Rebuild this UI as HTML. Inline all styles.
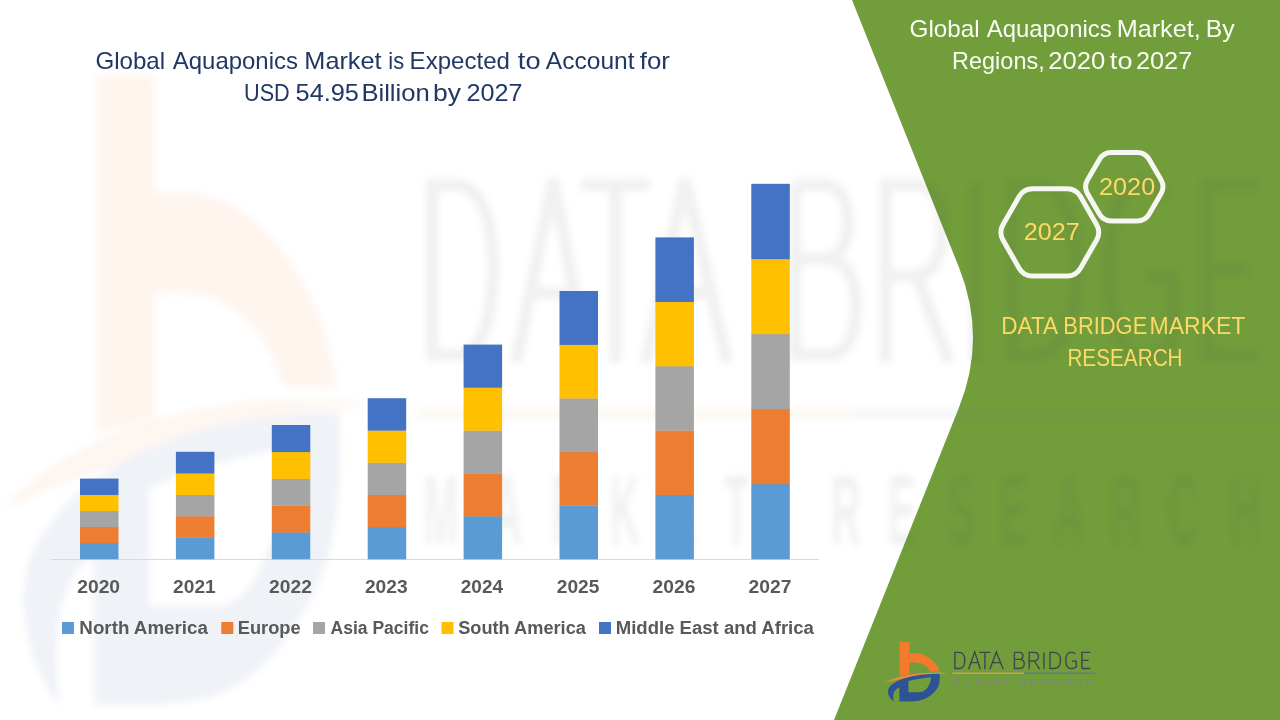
<!DOCTYPE html>
<html><head><meta charset="utf-8"><style>
html,body{margin:0;padding:0;}
body{width:1280px;height:720px;position:relative;overflow:hidden;background:#fff;font-family:"Liberation Sans",sans-serif;}
svg{position:absolute;left:0;top:0;opacity:0.999;}
text{font-family:"Liberation Sans",sans-serif;}
.t1{font-size:24px;fill:#203864;}
.wh{font-size:24px;fill:#FBFDF4;}
.ye{font-size:24px;fill:#FFD966;}
.yr{font-size:18px;font-weight:bold;fill:#595959;}
.wm g[stroke]{stroke-width:12px;} .wm path{vector-effect:non-scaling-stroke;}
.lg{font-size:18px;font-weight:bold;fill:#595959;}
</style></head><body>
<svg width="1280" height="720" viewBox="0 0 1280 720">
<defs>
<linearGradient id="swg" x1="884" y1="0" x2="947" y2="0" gradientUnits="userSpaceOnUse"><stop offset="0" stop-color="#E9893F"/><stop offset="0.7" stop-color="#E98A40"/><stop offset="1" stop-color="#D9C8A0"/></linearGradient>
<filter id="wblur" x="-10%" y="-10%" width="120%" height="120%"><feGaussianBlur stdDeviation="3.5"/></filter>
</defs>
<path d="M852 0 L1280 0 L1280 720 L834 720 L959 407.5 Q987 337.5 959 267.5 Z" fill="#729D3B"/>
<g class="wm" filter="url(#wblur)" opacity="0.075"><g transform="translate(-5392.4,-6730.76) scale(6.1,10.6)">
<path d="M899.7 642.1 H909.3 V653.1 C915 652.8 921.2 653.5 925 655.5 C932 659 937.5 664 939.3 671.6 L930.3 671.4 C928.5 667.5 925 664.5 919.4 663.2 C916 662.5 912 662.5 909.3 662.7 V674.6 L899.7 675.8 Z" fill="#F47A2E"/>
<path d="M884.4 683 C895 676.4 915 671.3 946.8 673 C922 674.7 899 679.2 884.4 683 Z" fill="url(#swg)"/>
<path fill-rule="evenodd" fill="#2D5295" d="M893.7 701.5 C887.5 697 886.3 690 890 686.4 C895 681 905 677.6 915 675.8 C924 674.3 933 673.8 939.5 673.8 C940.6 681 938.6 688 935 691.3 C931 696 925 699.6 918.5 700.7 C912 701.6 905 701.6 899.4 701.4 L899.4 687.4 C897 688 894.5 690.3 893.6 693.3 C893 696 893.2 699 893.7 701.5 Z M908.4 681 L908.4 692.2 L920 692.2 C926 691.6 930 686 931.2 677.3 C924 677.8 915 679.4 908.4 681 Z"/>

<g fill="none" stroke="#3E4550" stroke-width="1.35">
<path d="M954.9 652.4 V668.5 H958.5 C963.4 668.5 964.8 664.5 964.8 660.45 C964.8 656.4 963.4 652.4 958.5 652.4 Z"/>
<path d="M968.6 669.2 L974.7 651.9 L980.3 669.2 M970.9 662.6 H978.3"/>
<path d="M979.2 652.4 H990.5 M984.9 652.4 V669.2"/>
<path d="M989.9 669.2 L996.3 651.9 L1003.2 669.2 M992.2 662.6 H1000.6"/>
<path d="M1014.4 652.4 V668.5 H1019.5 C1023 668.5 1024.3 666.5 1024.3 663.8 C1024.3 661 1022.5 659.4 1019.5 659.4 H1014.4 M1019 659.4 C1021.8 659.4 1023 657.8 1023 655.9 C1023 653.8 1021.6 652.4 1019 652.4 H1014.4"/>
<path d="M1029.2 669.2 V652.4 H1034 C1037.3 652.4 1038.5 654.3 1038.5 656.6 C1038.5 659.2 1036.8 661 1034 661 H1029.2 M1034.3 661 L1039.6 669.2"/>
<path d="M1043.9 652.4 V669.2"/>
<path d="M1050 652.4 V668.5 H1053.5 C1058.8 668.5 1060.5 664.5 1060.5 660.45 C1060.5 656.4 1058.8 652.4 1053.5 652.4 Z"/>
<path d="M1075.5 653.6 C1074 652.7 1072.5 652.3 1071 652.3 C1067.5 652.3 1065.8 656 1065.8 660.45 C1065.8 665 1067.5 668.6 1071.3 668.6 C1073.2 668.6 1075 668 1076.3 667 V661.1 H1072"/>
<path d="M1090.3 652.4 H1081.9 V668.5 H1090.3 M1081.9 660.4 H1088.6"/>
</g>
</g><rect x="416" y="409.5" width="436.5" height="9" fill="#E0A050"/>
<rect x="852.5" y="409.5" width="433" height="9" fill="#5F7F8E"/><g transform="scale(0.42,1)"><text x="1050.0 1207.1 1347.6 1488.1 1621.4 1753.8 2013.8 2147.6 2288.1 2411.9 2544.8 2681.0 2816.7 2966.7" y="545" font-size="100" font-weight="bold" text-anchor="middle" fill="#3E4550">MARKETRESEARCH</text></g></g>
<rect x="51" y="559" width="768" height="1" fill="#D9D9D9"/>
<rect x="80.00" y="542.92" width="38.5" height="16.38" fill="#5B9BD5"/>
<rect x="80.00" y="526.84" width="38.5" height="16.38" fill="#ED7D31"/>
<rect x="80.00" y="510.76" width="38.5" height="16.38" fill="#A5A5A5"/>
<rect x="80.00" y="494.68" width="38.5" height="16.38" fill="#FFC000"/>
<rect x="80.00" y="478.60" width="38.5" height="16.38" fill="#4472C4"/>
<rect x="175.90" y="537.56" width="38.5" height="21.74" fill="#5B9BD5"/>
<rect x="175.90" y="516.12" width="38.5" height="21.74" fill="#ED7D31"/>
<rect x="175.90" y="494.68" width="38.5" height="21.74" fill="#A5A5A5"/>
<rect x="175.90" y="473.24" width="38.5" height="21.74" fill="#FFC000"/>
<rect x="175.90" y="451.80" width="38.5" height="21.74" fill="#4472C4"/>
<rect x="271.80" y="532.20" width="38.5" height="27.10" fill="#5B9BD5"/>
<rect x="271.80" y="505.40" width="38.5" height="27.10" fill="#ED7D31"/>
<rect x="271.80" y="478.60" width="38.5" height="27.10" fill="#A5A5A5"/>
<rect x="271.80" y="451.80" width="38.5" height="27.10" fill="#FFC000"/>
<rect x="271.80" y="425.00" width="38.5" height="27.10" fill="#4472C4"/>
<rect x="367.70" y="526.84" width="38.5" height="32.46" fill="#5B9BD5"/>
<rect x="367.70" y="494.68" width="38.5" height="32.46" fill="#ED7D31"/>
<rect x="367.70" y="462.52" width="38.5" height="32.46" fill="#A5A5A5"/>
<rect x="367.70" y="430.36" width="38.5" height="32.46" fill="#FFC000"/>
<rect x="367.70" y="398.20" width="38.5" height="32.46" fill="#4472C4"/>
<rect x="463.60" y="516.12" width="38.5" height="43.18" fill="#5B9BD5"/>
<rect x="463.60" y="473.24" width="38.5" height="43.18" fill="#ED7D31"/>
<rect x="463.60" y="430.36" width="38.5" height="43.18" fill="#A5A5A5"/>
<rect x="463.60" y="387.48" width="38.5" height="43.18" fill="#FFC000"/>
<rect x="463.60" y="344.60" width="38.5" height="43.18" fill="#4472C4"/>
<rect x="559.50" y="505.40" width="38.5" height="53.90" fill="#5B9BD5"/>
<rect x="559.50" y="451.80" width="38.5" height="53.90" fill="#ED7D31"/>
<rect x="559.50" y="398.20" width="38.5" height="53.90" fill="#A5A5A5"/>
<rect x="559.50" y="344.60" width="38.5" height="53.90" fill="#FFC000"/>
<rect x="559.50" y="291.00" width="38.5" height="53.90" fill="#4472C4"/>
<rect x="655.40" y="494.68" width="38.5" height="64.62" fill="#5B9BD5"/>
<rect x="655.40" y="430.36" width="38.5" height="64.62" fill="#ED7D31"/>
<rect x="655.40" y="366.04" width="38.5" height="64.62" fill="#A5A5A5"/>
<rect x="655.40" y="301.72" width="38.5" height="64.62" fill="#FFC000"/>
<rect x="655.40" y="237.40" width="38.5" height="64.62" fill="#4472C4"/>
<rect x="751.30" y="483.96" width="38.5" height="75.34" fill="#5B9BD5"/>
<rect x="751.30" y="408.92" width="38.5" height="75.34" fill="#ED7D31"/>
<rect x="751.30" y="333.88" width="38.5" height="75.34" fill="#A5A5A5"/>
<rect x="751.30" y="258.84" width="38.5" height="75.34" fill="#FFC000"/>
<rect x="751.30" y="183.80" width="38.5" height="75.34" fill="#4472C4"/>
<text x="77.23" y="592.9" class="yr" textLength="42.86" lengthAdjust="spacingAndGlyphs">2020</text>
<text x="173.14" y="592.9" class="yr" textLength="42.60" lengthAdjust="spacingAndGlyphs">2021</text>
<text x="269.03" y="592.9" class="yr" textLength="42.84" lengthAdjust="spacingAndGlyphs">2022</text>
<text x="364.93" y="592.9" class="yr" textLength="42.76" lengthAdjust="spacingAndGlyphs">2023</text>
<text x="460.84" y="592.9" class="yr" textLength="42.16" lengthAdjust="spacingAndGlyphs">2024</text>
<text x="556.74" y="592.9" class="yr" textLength="42.60" lengthAdjust="spacingAndGlyphs">2025</text>
<text x="652.63" y="592.9" class="yr" textLength="42.76" lengthAdjust="spacingAndGlyphs">2026</text>
<text x="748.53" y="592.9" class="yr" textLength="42.92" lengthAdjust="spacingAndGlyphs">2027</text>
<rect x="62" y="622" width="12" height="12" fill="#5B9BD5"/>
<rect x="221.3" y="622" width="12" height="12" fill="#ED7D31"/>
<rect x="313" y="622" width="12" height="12" fill="#A5A5A5"/>
<rect x="441.5" y="622" width="12" height="12" fill="#FFC000"/>
<rect x="599" y="622" width="12" height="12" fill="#4472C4"/>
<text x="79.35" y="633.75" class="lg" textLength="128.53" lengthAdjust="spacingAndGlyphs">North America</text>
<text x="237.78" y="633.75" class="lg" textLength="62.84" lengthAdjust="spacingAndGlyphs">Europe</text>
<text x="330.56" y="633.75" class="lg" textLength="98.35" lengthAdjust="spacingAndGlyphs">Asia Pacific</text>
<text x="458.23" y="633.75" class="lg" textLength="127.66" lengthAdjust="spacingAndGlyphs">South America</text>
<text x="615.76" y="633.75" class="lg" textLength="198.12" lengthAdjust="spacingAndGlyphs">Middle East and Africa</text>
<text x="95.49" y="68.8" class="t1" textLength="69.62" lengthAdjust="spacingAndGlyphs">Global</text>
<text x="172.85" y="68.8" class="t1" textLength="125.11" lengthAdjust="spacingAndGlyphs">Aquaponics</text>
<text x="304.33" y="68.8" class="t1" textLength="77.26" lengthAdjust="spacingAndGlyphs">Market</text>
<text x="388.33" y="68.8" class="t1" textLength="15.86" lengthAdjust="spacingAndGlyphs">is</text>
<text x="409.63" y="68.8" class="t1" textLength="100.32" lengthAdjust="spacingAndGlyphs">Expected</text>
<text x="517.89" y="68.8" class="t1" textLength="22.65" lengthAdjust="spacingAndGlyphs">to</text>
<text x="545.85" y="68.8" class="t1" textLength="88.63" lengthAdjust="spacingAndGlyphs">Account</text>
<text x="639.73" y="68.8" class="t1" textLength="30.09" lengthAdjust="spacingAndGlyphs">for</text>
<text x="244.03" y="100.8" class="t1" textLength="45.71" lengthAdjust="spacingAndGlyphs">USD</text>
<text x="295.59" y="100.8" class="t1" textLength="63.27" lengthAdjust="spacingAndGlyphs">54.95</text>
<text x="361.40" y="100.8" class="t1" textLength="68.26" lengthAdjust="spacingAndGlyphs">Billion</text>
<text x="433.10" y="100.8" class="t1" textLength="27.85" lengthAdjust="spacingAndGlyphs">by</text>
<text x="466.43" y="100.8" class="t1" textLength="56.03" lengthAdjust="spacingAndGlyphs">2027</text>
<text x="909.58" y="37.1" class="wh" textLength="70.04" lengthAdjust="spacingAndGlyphs">Global</text>
<text x="986.75" y="37.1" class="wh" textLength="124.91" lengthAdjust="spacingAndGlyphs">Aquaponics</text>
<text x="1116.73" y="37.1" class="wh" textLength="84.03" lengthAdjust="spacingAndGlyphs">Market,</text>
<text x="1205.77" y="37.1" class="wh" textLength="28.88" lengthAdjust="spacingAndGlyphs">By</text>
<text x="952.07" y="68.75" class="wh" textLength="92.63" lengthAdjust="spacingAndGlyphs">Regions,</text>
<text x="1048.31" y="68.75" class="wh" textLength="57.09" lengthAdjust="spacingAndGlyphs">2020</text>
<text x="1109.89" y="68.75" class="wh" textLength="22.54" lengthAdjust="spacingAndGlyphs">to</text>
<text x="1135.93" y="68.75" class="wh" textLength="56.35" lengthAdjust="spacingAndGlyphs">2027</text>
<path d="M1003.07 240.18 Q998.60 232.38 1003.07 224.57L1019.13 196.56 Q1023.60 188.75 1032.60 188.75L1067.00 188.75 Q1076.00 188.75 1080.47 196.56L1096.53 224.57 Q1101.00 232.38 1096.53 240.18L1080.47 268.19 Q1076.00 276.00 1067.00 276.00L1032.60 276.00 Q1023.60 276.00 1019.13 268.19Z" fill="none" stroke="#F6F7F2" stroke-width="5"/>
<path d="M1087.60 193.68 Q1083.60 186.75 1087.60 179.82L1099.40 159.43 Q1103.40 152.50 1111.40 152.50L1137.20 152.50 Q1145.20 152.50 1149.20 159.43L1161.00 179.82 Q1165.00 186.75 1161.00 193.68L1149.20 214.07 Q1145.20 221.00 1137.20 221.00L1111.40 221.00 Q1103.40 221.00 1099.40 214.07Z" fill="none" stroke="#F6F7F2" stroke-width="5"/>
<text x="1099.03" y="194.8" class="ye" textLength="56.16" lengthAdjust="spacingAndGlyphs">2020</text>
<text x="1023.73" y="240.4" class="ye" textLength="56.03" lengthAdjust="spacingAndGlyphs">2027</text>
<text x="1001.36" y="333.9" class="ye" textLength="56.69" lengthAdjust="spacingAndGlyphs">DATA</text>
<text x="1063.30" y="333.9" class="ye" textLength="83.94" lengthAdjust="spacingAndGlyphs">BRIDGE</text>
<text x="1149.51" y="333.9" class="ye" textLength="95.92" lengthAdjust="spacingAndGlyphs">MARKET</text>
<text x="1067.40" y="365.5" class="ye" textLength="115.19" lengthAdjust="spacingAndGlyphs">RESEARCH</text>

<path d="M899.7 642.1 H909.3 V653.1 C915 652.8 921.2 653.5 925 655.5 C932 659 937.5 664 939.3 671.6 L930.3 671.4 C928.5 667.5 925 664.5 919.4 663.2 C916 662.5 912 662.5 909.3 662.7 V674.6 L899.7 675.8 Z" fill="#F47A2E"/>
<path d="M884.4 683 C895 676.4 915 671.3 946.8 673 C922 674.7 899 679.2 884.4 683 Z" fill="url(#swg)"/>
<path fill-rule="evenodd" fill="#2D5295" d="M893.7 701.5 C887.5 697 886.3 690 890 686.4 C895 681 905 677.6 915 675.8 C924 674.3 933 673.8 939.5 673.8 C940.6 681 938.6 688 935 691.3 C931 696 925 699.6 918.5 700.7 C912 701.6 905 701.6 899.4 701.4 L899.4 687.4 C897 688 894.5 690.3 893.6 693.3 C893 696 893.2 699 893.7 701.5 Z M908.4 681 L908.4 692.2 L920 692.2 C926 691.6 930 686 931.2 677.3 C924 677.8 915 679.4 908.4 681 Z"/>


<g fill="none" stroke="#3E4550" stroke-width="1.35">
<path d="M954.9 652.4 V668.5 H958.5 C963.4 668.5 964.8 664.5 964.8 660.45 C964.8 656.4 963.4 652.4 958.5 652.4 Z"/>
<path d="M968.6 669.2 L974.7 651.9 L980.3 669.2 M970.9 662.6 H978.3"/>
<path d="M979.2 652.4 H990.5 M984.9 652.4 V669.2"/>
<path d="M989.9 669.2 L996.3 651.9 L1003.2 669.2 M992.2 662.6 H1000.6"/>
<path d="M1014.4 652.4 V668.5 H1019.5 C1023 668.5 1024.3 666.5 1024.3 663.8 C1024.3 661 1022.5 659.4 1019.5 659.4 H1014.4 M1019 659.4 C1021.8 659.4 1023 657.8 1023 655.9 C1023 653.8 1021.6 652.4 1019 652.4 H1014.4"/>
<path d="M1029.2 669.2 V652.4 H1034 C1037.3 652.4 1038.5 654.3 1038.5 656.6 C1038.5 659.2 1036.8 661 1034 661 H1029.2 M1034.3 661 L1039.6 669.2"/>
<path d="M1043.9 652.4 V669.2"/>
<path d="M1050 652.4 V668.5 H1053.5 C1058.8 668.5 1060.5 664.5 1060.5 660.45 C1060.5 656.4 1058.8 652.4 1053.5 652.4 Z"/>
<path d="M1075.5 653.6 C1074 652.7 1072.5 652.3 1071 652.3 C1067.5 652.3 1065.8 656 1065.8 660.45 C1065.8 665 1067.5 668.6 1071.3 668.6 C1073.2 668.6 1075 668 1076.3 667 V661.1 H1072"/>
<path d="M1090.3 652.4 H1081.9 V668.5 H1090.3 M1081.9 660.4 H1088.6"/>
</g>
<rect x="952.5" y="672.5" width="71.5" height="1.5" fill="#C9A455"/>
<rect x="1024" y="672.5" width="71" height="1.5" fill="#5F7F8E"/><text x="952.3 964.8 974.5 984.2 993.9 1003 1020 1029.8 1039.5 1048 1056.6 1066.3 1075.4 1085.7" y="686" font-size="9.6" font-weight="bold" fill="#7D8877">MARKETRESEARCH</text>
</svg>
</body></html>
